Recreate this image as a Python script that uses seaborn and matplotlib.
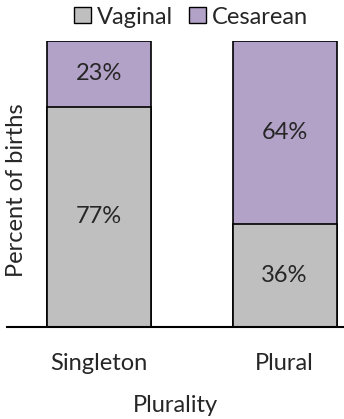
import matplotlib
matplotlib.use("Agg")
import matplotlib.pyplot as plt
import seaborn as sns
import pandas as pd
from matplotlib.patches import Patch

# Delivery method share by plurality
categories = ["Singleton", "Plural"]
vaginal = [77, 36]
cesarean = [23, 64]

sns.set_style("white")
plt.rcParams["font.family"] = ["Lato", "DejaVu Sans"]

grey = "#BFBFBF"
purple = "#B3A2C7"
fs = 17

df = pd.DataFrame({"Plurality": categories, "Vaginal": vaginal, "Cesarean": cesarean})
df["Total"] = df["Vaginal"] + df["Cesarean"]

fig = plt.figure(figsize=(3.44, 4.19), dpi=100)
ax = fig.add_axes([7 / 344, 92 / 419, 1 - 7 / 344, (327 - 41) / 419])

sns.barplot(data=df, x="Plurality", y="Total", color=purple, edgecolor="black",
            linewidth=1.2, width=0.56, saturation=1, ax=ax)
sns.barplot(data=df, x="Plurality", y="Vaginal", color=grey, edgecolor="black",
            linewidth=1.2, width=0.56, saturation=1, ax=ax)

for i, (v, c) in enumerate(zip(vaginal, cesarean)):
    ax.text(i, v / 2, f"{v}%", ha="center", va="center", fontsize=fs)
    ax.text(i, v + c / 2, f"{c}%", ha="center", va="center", fontsize=fs)

ax.set_xlim(-0.496, 1.32)
ax.set_ylim(0, 100)
ax.set_yticks([])
ax.set_ylabel("Percent of births", fontsize=fs, va="center")
ax.yaxis.set_label_coords((17 - 7) / 337, (327 - 190) / 286)
ax.set_xlabel("Plurality", fontsize=fs, labelpad=15)
ax.tick_params(axis="x", length=0, labelsize=fs, pad=19)
for s in ["top", "right", "left"]:
    ax.spines[s].set_visible(False)
ax.spines["bottom"].set_linewidth(1.5)
ax.spines["bottom"].set_color("black")

handles = [Patch(facecolor=grey, edgecolor="black", label="Vaginal"),
           Patch(facecolor=purple, edgecolor="black", label="Cesarean")]
fig.legend(handles=handles, loc="center", bbox_to_anchor=(191 / 344, 1 - 17 / 419),
           ncol=2, frameon=False, fontsize=fs, handlelength=0.7, handleheight=0.7,
           handletextpad=0.25, columnspacing=0.7, borderaxespad=0)

fig.savefig("out.png", dpi=100)
